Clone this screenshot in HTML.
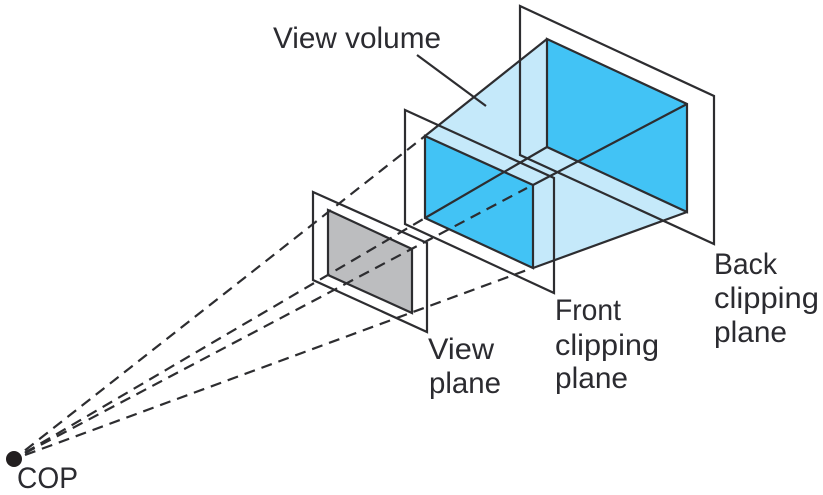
<!DOCTYPE html>
<html>
<head>
<meta charset="utf-8">
<style>
html,body{margin:0;padding:0;background:#fff;width:823px;height:495px;overflow:hidden}
svg{display:block}
text{font-family:"Liberation Sans",sans-serif;font-size:30px;fill:#2b2b30}
</style>
</head>
<body>
<svg width="823" height="495" viewBox="0 0 823 495" xmlns="http://www.w3.org/2000/svg">
<rect width="823" height="495" fill="#fff"/>
<polygon points="425,136 547,39 687,104 687,212 533,268 425,218" fill="#c5e9fa"/>
<polygon points="547,39 687,104 687,212 547,147" fill="#42c3f5"/>
<polygon points="425,136 533,185 533,268 425,218" fill="#42c3f5"/>
<polygon points="328,210 412,249 412,313 328,275" fill="#bcbdbf"/>
<g fill="none" stroke="#2d2d30" stroke-width="2.2" stroke-linejoin="miter">
<polygon points="520,6 714,96 714,244 520,155"/>
<polygon points="405,110 554,178 554,293 405,224"/>
<polygon points="313,192 427,243 427,332 313,280"/>
<polygon points="547,39 687,104 687,212 547,147"/>
<polygon points="425,136 533,185 533,268 425,218"/>
<polygon points="328,210 412,249 412,313 328,275"/>
<line x1="425" y1="136" x2="547" y2="39"/>
<line x1="425" y1="218" x2="547" y2="147"/>
<line x1="533" y1="185" x2="687" y2="104"/>
<line x1="533" y1="268" x2="687" y2="212"/>
<line x1="417" y1="55" x2="486" y2="106"/>
</g>
<g fill="none" stroke="#2d2d30" stroke-width="2.2" stroke-dasharray="11 7">
<line x1="25" y1="450.4" x2="425" y2="136"/>
<line x1="25" y1="452.6" x2="425" y2="218"/>
<line x1="25" y1="453.2" x2="527" y2="188"/>
<line x1="25" y1="455" x2="527" y2="270"/>
</g>
<circle cx="14" cy="459" r="8" fill="#231f20"/>
<text x="273" y="48" textLength="168" lengthAdjust="spacingAndGlyphs">View volume</text>
<text x="714" y="274" textLength="63" lengthAdjust="spacingAndGlyphs">Back</text>
<text x="714" y="308" textLength="105" lengthAdjust="spacingAndGlyphs">clipping</text>
<text x="714" y="342" textLength="73" lengthAdjust="spacingAndGlyphs">plane</text>
<text x="555" y="320" textLength="66" lengthAdjust="spacingAndGlyphs">Front</text>
<text x="555" y="355" textLength="104" lengthAdjust="spacingAndGlyphs">clipping</text>
<text x="555" y="388" textLength="73" lengthAdjust="spacingAndGlyphs">plane</text>
<text x="428" y="359" textLength="66" lengthAdjust="spacingAndGlyphs">View</text>
<text x="429" y="393" textLength="72" lengthAdjust="spacingAndGlyphs">plane</text>
<text x="17" y="488" textLength="61" lengthAdjust="spacingAndGlyphs">COP</text>
</svg>
</body>
</html>
